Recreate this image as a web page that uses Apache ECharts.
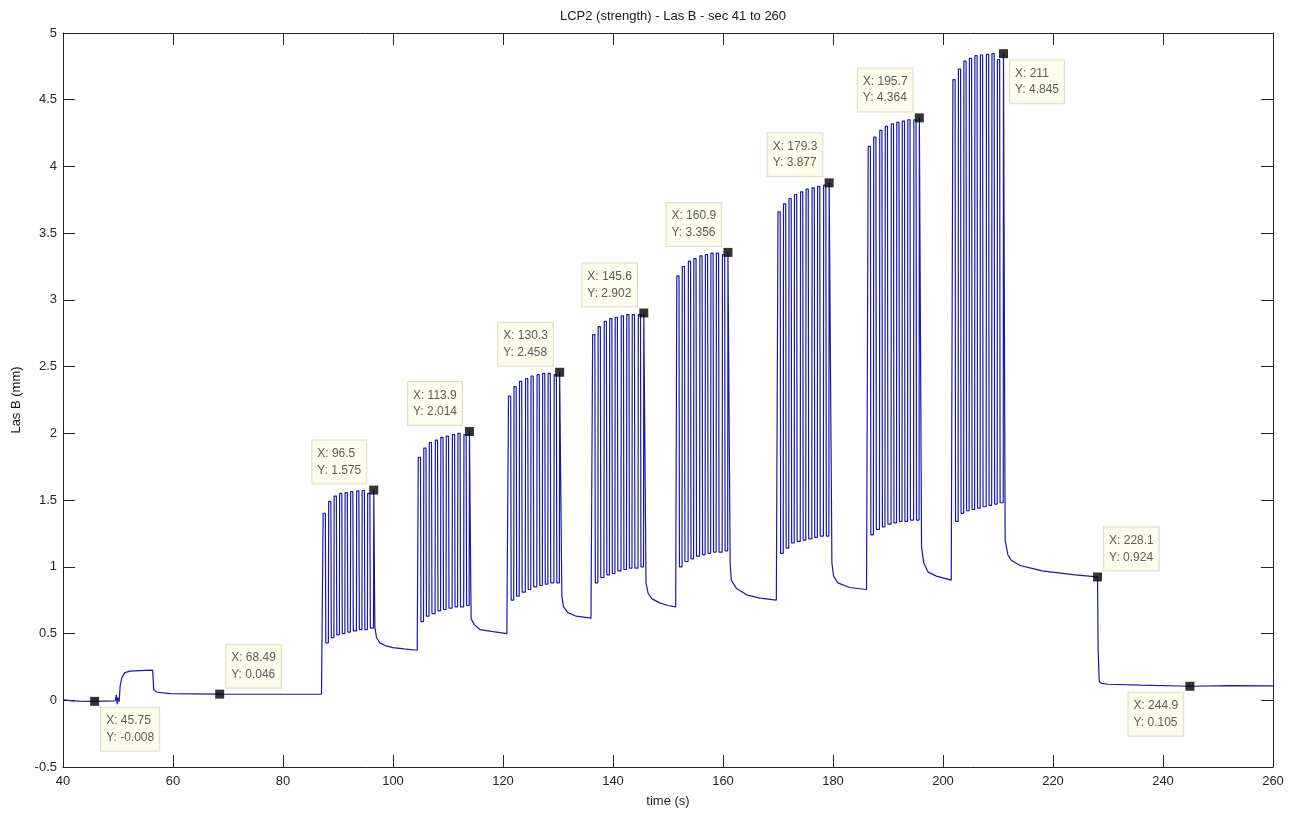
<!DOCTYPE html>
<html>
<head>
<meta charset="utf-8">
<title>LCP2 (strength) - Las B</title>
<script src="https://cdn.jsdelivr.net/npm/echarts@6/dist/echarts.min.js"></script>
<style>
  html, body { margin: 0; padding: 0; background: #ffffff; }
  #chart { width: 1301px; height: 813px; }
</style>
</head>
<body>
<div id="chart"></div>
<script>
// ---- recorded displacement, Las B (mm) against time (s) ----

// quiet start, small step near 50 s, settled level until the first train
const baseline = [
  [40.0, 0.004], [40.3, 0.012], [40.6, 0.002], [41.5, -0.004], [43.0, -0.006],
  [45.75, -0.008], [47.5, -0.006], [49.5, -0.005], [49.7, 0.04], [49.85, -0.03],
  [50.0, 0.02], [50.2, -0.01], [50.4, 0.11], [50.7, 0.17], [51.2, 0.205],
  [52.1, 0.218], [54.0, 0.222], [56.3, 0.226], [56.5, 0.08], [57.0, 0.062],
  [58.2, 0.055], [59.5, 0.05], [68.49, 0.046], [80.0, 0.045], [87.0, 0.045]
];

// stimulation trains: time of each peak, peak value, trough after each peak
const train1Times   = [87.3, 88.3, 89.3, 90.3, 91.3, 92.3, 93.4, 94.4, 95.4, 96.5];
const train1Peaks   = [1.40, 1.49, 1.53, 1.55, 1.556, 1.564, 1.569, 1.572, 1.55, 1.575];
const train1Troughs = [0.43, 0.47, 0.49, 0.50, 0.51, 0.52, 0.53, 0.53, 0.54];

const train2Times   = [104.6, 105.6, 106.6, 107.7, 108.7, 109.7, 110.8, 111.8, 112.9, 113.9];
const train2Peaks   = [1.82, 1.89, 1.93, 1.95, 1.97, 1.98, 1.99, 2.00, 1.99, 2.014];
const train2Troughs = [0.59, 0.63, 0.65, 0.67, 0.68, 0.69, 0.70, 0.70, 0.71];

const train3Times   = [121.0, 122.0, 123.0, 124.1, 125.1, 126.2, 127.2, 128.2, 129.3, 130.3];
const train3Peaks   = [2.28, 2.35, 2.39, 2.41, 2.43, 2.44, 2.45, 2.45, 2.44, 2.458];
const train3Troughs = [0.75, 0.78, 0.81, 0.83, 0.85, 0.86, 0.87, 0.88, 0.88];

const train4Times   = [136.3, 137.3, 138.4, 139.4, 140.4, 141.5, 142.5, 143.5, 144.6, 145.6];
const train4Peaks   = [2.74, 2.80, 2.84, 2.86, 2.87, 2.88, 2.89, 2.89, 2.89, 2.902];
const train4Troughs = [0.88, 0.92, 0.94, 0.95, 0.97, 0.98, 0.99, 0.99, 1.00];

const train5Times   = [151.6, 152.6, 153.7, 154.7, 155.8, 156.8, 157.8, 158.8, 159.9, 160.9];
const train5Peaks   = [3.18, 3.25, 3.29, 3.31, 3.33, 3.34, 3.35, 3.35, 3.34, 3.356];
const train5Troughs = [1.00, 1.04, 1.06, 1.08, 1.09, 1.10, 1.11, 1.11, 1.12];

const train6Times   = [170.0, 171.0, 172.0, 173.0, 174.1, 175.1, 176.2, 177.2, 178.3, 179.3];
const train6Peaks   = [3.66, 3.72, 3.76, 3.79, 3.81, 3.83, 3.84, 3.85, 3.86, 3.877];
const train6Troughs = [1.10, 1.14, 1.18, 1.19, 1.20, 1.21, 1.22, 1.23, 1.23];

const train7Times   = [186.4, 187.4, 188.5, 189.5, 190.6, 191.6, 192.6, 193.6, 194.7, 195.7];
const train7Peaks   = [4.15, 4.22, 4.27, 4.30, 4.32, 4.33, 4.34, 4.35, 4.35, 4.364];
const train7Troughs = [1.24, 1.28, 1.30, 1.32, 1.33, 1.34, 1.34, 1.35, 1.35];

const train8Times   = [201.8, 202.8, 203.8, 204.8, 205.8, 206.8, 207.9, 208.9, 209.9, 211.0];
const train8Peaks   = [4.65, 4.73, 4.79, 4.81, 4.83, 4.835, 4.84, 4.845, 4.80, 4.845];
const train8Troughs = [1.34, 1.40, 1.42, 1.43, 1.44, 1.45, 1.46, 1.47, 1.48];

// relaxation after each train, up to the onset of the next one
const settle1 = [[96.7, 0.55], [97.0, 0.47], [97.6, 0.43], [98.6, 0.41], [100.0, 0.395], [102.0, 0.385], [104.4, 0.375]];
const settle2 = [[114.2, 0.61], [114.85, 0.565], [115.8, 0.53], [118.2, 0.515], [120.7, 0.50]];
const settle3 = [[130.7, 0.78], [131.0, 0.70], [131.8, 0.657], [133.3, 0.63], [136.0, 0.615]];
const settle4 = [[146.0, 0.88], [146.4, 0.80], [147.1, 0.76], [148.5, 0.73], [150.0, 0.71], [151.4, 0.70]];
const settle5 = [[161.3, 1.03], [161.5, 0.90], [162.4, 0.84], [164.3, 0.79], [166.7, 0.765], [169.7, 0.75]];
const settle6 = [[179.8, 1.03], [180.1, 0.93], [180.9, 0.88], [183.0, 0.845], [186.1, 0.83]];
const settle7 = [[196.1, 1.15], [196.5, 1.03], [197.3, 0.96], [198.8, 0.93], [201.5, 0.90]];
const settle8 = [[211.3, 1.20], [211.8, 1.09], [212.4, 1.05], [214.0, 1.01], [216.0, 0.99],
                 [218.0, 0.97], [221.0, 0.955], [224.0, 0.94], [228.1, 0.924]];

// release and final resting level
const tail = [[228.2, 0.40], [228.4, 0.14], [228.8, 0.127], [230.0, 0.12], [236.0, 0.113],
              [244.9, 0.105], [252.0, 0.11], [260.0, 0.108]];

// data tips: [time, value] and which side of the marker the box sits on
const tipPoints = [
  [45.75, -0.008], [68.49, 0.046], [96.5, 1.575], [113.9, 2.014], [130.3, 2.458],
  [145.6, 2.902], [160.9, 3.356], [179.3, 3.877], [195.7, 4.364], [211, 4.845],
  [228.1, 0.924], [244.9, 0.105]
];
const tipSides = [
  'lowerRight', 'upperRight', 'upperLeft', 'upperLeft', 'upperLeft',
  'upperLeft', 'upperLeft', 'upperLeft', 'upperLeft', 'lowerRight',
  'upperRight', 'lowerLeft'
];

const titleText = 'LCP2 (strength) - Las B - sec 41 to 260';
const xName = 'time (s)';
const yName = 'Las B (mm)';

// ---- build the trace ----
// each twitch: fast upstroke to the peak, a short plateau, fast release to the trough
const RISE_S = 0.05;
const HOLD_S = 0.40;
const DROP_S = 0.08;

function pulseTrain(times, peaks, troughs) {
  const pts = [];
  times.forEach((t, i) => {
    if (i > 0) pts.push([t - RISE_S, troughs[i - 1]]);
    pts.push([t, peaks[i]]);
    if (i < troughs.length) {
      pts.push([t + HOLD_S, peaks[i]]);
      pts.push([t + HOLD_S + DROP_S, troughs[i]]);
    }
  });
  return pts;
}

const trace = [].concat(
  baseline,
  pulseTrain(train1Times, train1Peaks, train1Troughs), settle1,
  pulseTrain(train2Times, train2Peaks, train2Troughs), settle2,
  pulseTrain(train3Times, train3Peaks, train3Troughs), settle3,
  pulseTrain(train4Times, train4Peaks, train4Troughs), settle4,
  pulseTrain(train5Times, train5Peaks, train5Troughs), settle5,
  pulseTrain(train6Times, train6Peaks, train6Troughs), settle6,
  pulseTrain(train7Times, train7Peaks, train7Troughs), settle7,
  pulseTrain(train8Times, train8Peaks, train8Troughs), settle8,
  tail
);

// ---- styling ----
const FONT = 'Arial, "Liberation Sans", Helvetica, sans-serif';
const AXIS_COLOR = '#262626';
const TRACE_COLOR = '#1818b0';

// data-tip box geometry (text is left aligned inside every box)
const TIP_FONT_SIZE = 12;
const TIP_LINE_H = 16.5;
const TIP_PAD = 5;
const measureCtx = document.createElement('canvas').getContext('2d');
measureCtx.font = TIP_FONT_SIZE + 'px ' + FONT;

function tipText(p) {
  return 'X: ' + p[0] + '\nY: ' + p[1];
}
function tipBox(p) {
  const lines = tipText(p).split('\n');
  const w = Math.max.apply(null, lines.map(s => measureCtx.measureText(s).width)) + 2 * TIP_PAD;
  const h = lines.length * TIP_LINE_H + 2 * TIP_PAD;
  return { w: Math.ceil(w), h: Math.ceil(h) };
}
// offsets relative to the 9x9 marker's top-left corner
function tipPosition(side, box) {
  switch (side) {
    case 'upperLeft':  return [-2 - box.w, -2 - box.h];
    case 'upperRight': return [11, -2 - box.h];
    case 'lowerRight': return [11, 11];
    default:           return [-2 - box.w, 11];
  }
}

const tipData = tipPoints.map((p, i) => ({
  value: p,
  label: { position: tipPosition(tipSides[i], tipBox(p)), align: 'left', verticalAlign: 'top' }
}));

function frameAxis(extra) {
  return Object.assign({
    type: 'value',
    axisLine: { show: true, onZero: false, lineStyle: { color: AXIS_COLOR, width: 1 } },
    axisTick: { show: true, inside: true, length: 12, lineStyle: { color: AXIS_COLOR, width: 1 } },
    axisLabel: { show: false },
    splitLine: { show: false }
  }, extra);
}

const labelStyle = { show: true, fontFamily: FONT, fontSize: 13, color: AXIS_COLOR };
const nameStyle = { fontFamily: FONT, fontSize: 13, color: '#1a1a1a' };

const option = {
  animation: false,
  backgroundColor: '#ffffff',
  title: {
    text: titleText,
    left: 668,
    top: 5,
    textAlign: 'center',
    textStyle: { fontFamily: FONT, fontSize: 13, fontWeight: 'normal', color: '#1a1a1a' }
  },
  grid: { left: 63, right: 28, top: 33, bottom: 46 },
  xAxis: [
    frameAxis({
      min: 40, max: 260, interval: 20, position: 'bottom',
      name: xName, nameLocation: 'middle', nameGap: 28, nameTextStyle: nameStyle,
      axisLabel: Object.assign({ margin: 8 }, labelStyle)
    }),
    frameAxis({ min: 40, max: 260, interval: 20, position: 'top' })
  ],
  yAxis: [
    frameAxis({
      min: -0.5, max: 5, interval: 0.5, position: 'left',
      name: yName, nameLocation: 'middle', nameGap: 40, nameTextStyle: nameStyle,
      axisLabel: Object.assign({ margin: 6 }, labelStyle)
    }),
    frameAxis({ min: -0.5, max: 5, interval: 0.5, position: 'right' })
  ],
  series: [
    {
      type: 'line',
      data: trace,
      showSymbol: false,
      symbol: 'none',
      silent: true,
      lineStyle: { color: TRACE_COLOR, width: 1.2 },
      z: 2
    },
    {
      type: 'scatter',
      data: tipData,
      symbol: 'rect',
      symbolSize: 9,
      itemStyle: { color: '#000000' },
      silent: true,
      z: 3,
      label: {
        show: true,
        formatter: (p) => tipText(p.value),
        fontFamily: FONT,
        fontSize: TIP_FONT_SIZE,
        lineHeight: TIP_LINE_H,
        color: '#333333',
        padding: [TIP_PAD, TIP_PAD, TIP_PAD, TIP_PAD],
        backgroundColor: '#fcfce6',
        borderColor: '#d6d6c0',
        borderWidth: 1
      }
    }
  ]
};

const chart = echarts.init(document.getElementById('chart'), null, { renderer: 'canvas' });
chart.setOption(option);
</script>
</body>
</html>
